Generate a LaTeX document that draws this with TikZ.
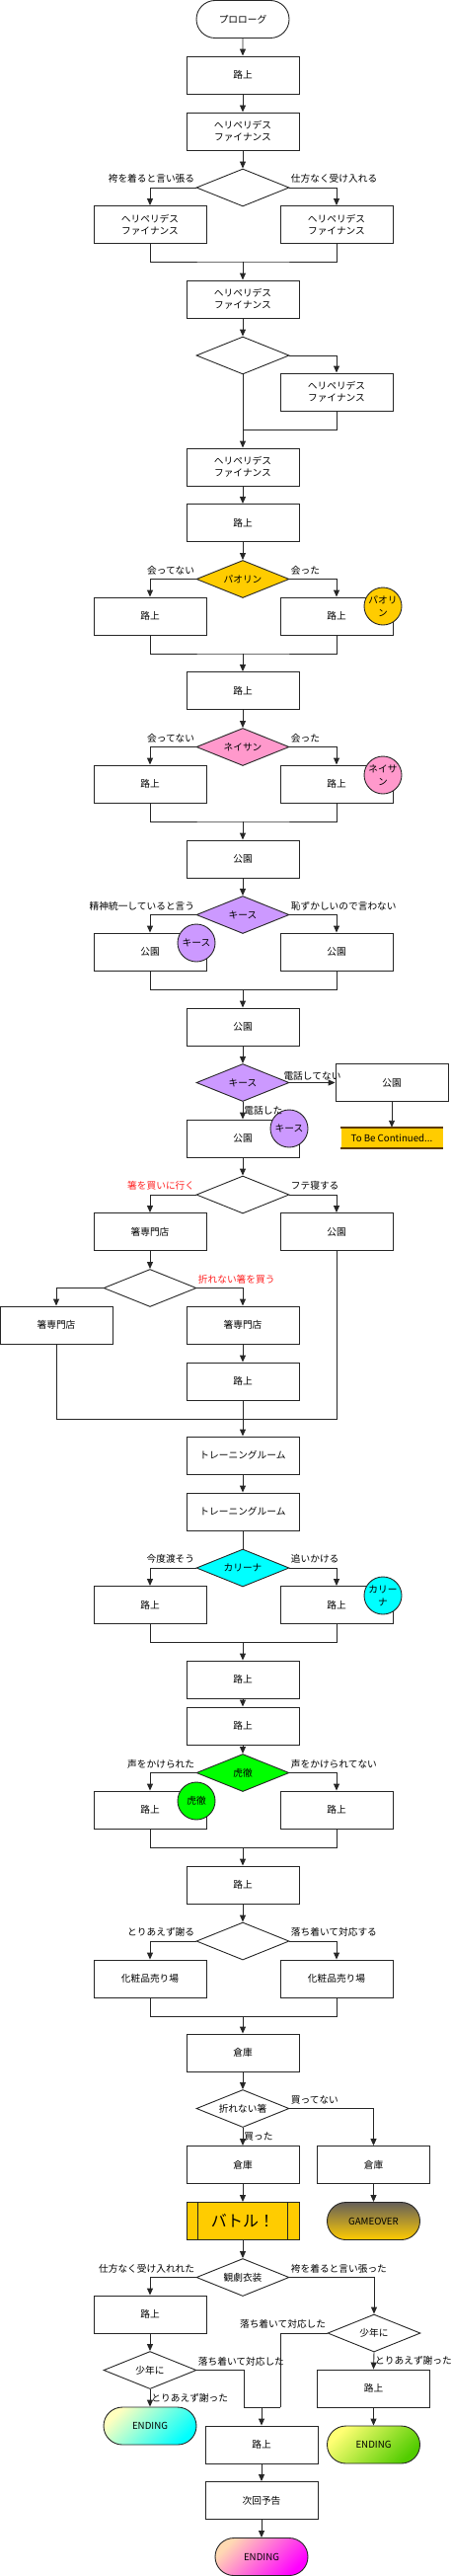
\documentclass[tikz,border=0pt]{standalone}
\usepackage{fontspec}
\setmainfont{Noto Sans CJK JP}
\usetikzlibrary{shapes.geometric, shapes.misc, arrows.meta}

\definecolor{golden}{HTML}{FFCC00}
\definecolor{nspink}{HTML}{FF99CC}
\definecolor{kslila}{HTML}{CC99FF}
\definecolor{krcyan}{HTML}{00FFFF}
\definecolor{ktgreen}{HTML}{00FF00}
\definecolor{govertop}{HTML}{66605A}
\definecolor{tbcrand}{HTML}{5C3A00}
\definecolor{choicered}{HTML}{FF2020}

\tikzset{
  scene/.style={rectangle, draw=black!85, line width=0.9pt, fill=white, minimum width=114pt,
    minimum height=38pt, inner sep=0pt, align=center, font=\fontsize{9.7}{12}\selectfont},
  choice/.style={diamond, draw=black!85, line width=0.9pt, fill=white, aspect=2.47, minimum width=94pt,
    minimum height=38pt, inner sep=0pt, font=\fontsize{9.7}{12}\selectfont},
  terminal/.style={rounded rectangle, draw=black!85, line width=0.9pt, minimum width=94pt,
    minimum height=38pt, inner sep=0pt, font=\fontsize{9.7}{12}\selectfont},
  chara/.style={circle, draw=black!85, line width=0.9pt, minimum size=38pt, inner sep=0pt,
    align=center, font=\fontsize{9.7}{13}\selectfont},
  lbl/.style={inner sep=1pt, font=\fontsize{9.7}{12}\selectfont},
  arrow/.style={-{Triangle[width=6pt,length=7pt]}, line width=0.9pt, draw=black!85},
  link/.style={line width=0.9pt, draw=black!85},
}

\begin{document}
\begin{tikzpicture}[x=1pt, y=-1pt]
  \tikzset{
    battle/.style={rectangle, draw=black!85, line width=0.9pt, fill=golden, minimum width=114pt,
      minimum height=38pt, inner sep=0pt, font=\fontsize{16}{18}\selectfont},
    tbc/.style={rectangle, fill=golden, minimum width=103pt, minimum height=21pt,
      inner sep=0pt, font=\fontsize{9.7}{12}\selectfont},
  }
  \useasboundingbox (0,0) rectangle (457,2609);

  % Anfang: Heliperides Finance
  \node[terminal, fill=white] (prolog) at (246,19.5) {プロローグ};
  \node[scene] (r1)  at (246,76)    {路上};
  \node[scene] (hf1) at (246,133)   {ヘリペリデス\\ファイナンス};
  \node[choice] (c1) at (246,190)   {};
  \node[scene] (hf2) at (152,227.5) {ヘリペリデス\\ファイナンス};
  \node[scene] (hf3) at (341,227.5) {ヘリペリデス\\ファイナンス};
  \coordinate (j1) at (246,265);
  \node[scene] (hf4) at (246,303)   {ヘリペリデス\\ファイナンス};
  \node[choice] (c2) at (246,360)   {};
  \node[scene] (hf5) at (341,397)   {ヘリペリデス\\ファイナンス};
  \coordinate (j2) at (246,435);
  \node[scene] (hf6) at (246,473)   {ヘリペリデス\\ファイナンス};

  % Paolin
  \node[scene] (r2) at (246,529.5) {路上};
  \node[choice, fill=golden] (c3) at (246,586.5) {パオリン};
  \node[scene] (r3) at (152,624) {路上};
  \node[scene] (r4) at (341,624) {路上};
  \node[chara, fill=golden] (ch1) at (388,614) {パオリ\\ン};
  \coordinate (j3) at (246,662);

  % Nathan
  \node[scene] (r5) at (246,699.5) {路上};
  \node[choice, fill=nspink] (c4) at (246,756.5) {ネイサン};
  \node[scene] (r6) at (152,794) {路上};
  \node[scene] (r7) at (341,794) {路上};
  \node[chara, fill=nspink] (ch2) at (388,785) {ネイサ\\ン};
  \coordinate (j4) at (246,832);

  % Kiss
  \node[scene] (p1) at (246,870) {公園};
  \node[choice, fill=kslila] (c5) at (246,926.5) {キース};
  \node[scene] (p2) at (152,964) {公園};
  \node[scene] (p3) at (341,964) {公園};
  \node[chara, fill=kslila] (ch3) at (199,955) {キース};
  \coordinate (j5) at (246,1002);
  \node[scene] (p4) at (246,1040) {公園};
  \node[choice, fill=kslila] (c6) at (246,1096.5) {キース};
  \node[scene] (p5) at (397,1096.5) {公園};
  \node[tbc] (tbc) at (397,1152.5) {To Be Continued...};
  \node[scene] (p6) at (246,1153) {公園};
  \node[chara, fill=kslila] (ch4) at (293,1143) {キース};

  % Essstaebchen
  \node[choice] (c7) at (246,1210) {};
  \node[scene] (s1) at (152,1247.5) {箸専門店};
  \node[scene] (p7) at (341,1247.5) {公園};
  \node[choice] (c8) at (152,1304.5) {};
  \node[scene] (s2) at (57,1342)  {箸専門店};
  \node[scene] (s3) at (246,1342) {箸専門店};
  \node[scene] (r8) at (246,1399) {路上};
  \coordinate (j6) at (246,1437);
  \node[scene] (t1) at (246,1474) {トレーニングルーム};
  \node[scene] (t2) at (246,1531) {トレーニングルーム};

  % Karina
  \node[choice, fill=krcyan] (c9) at (246,1588) {カリーナ};
  \node[scene] (r9)  at (152,1625.5) {路上};
  \node[scene] (r10) at (341,1625.5) {路上};
  \node[chara, fill=krcyan] (ch5) at (388,1616) {カリー\\ナ};
  \coordinate (j7) at (246,1663);
  \node[scene] (r11) at (246,1701) {路上};
  \node[scene] (r12) at (246,1748) {路上};

  % Kotetsu
  \node[choice, fill=ktgreen] (c10) at (246,1795.5) {虎徹};
  \node[scene] (r13) at (152,1833) {路上};
  \node[scene] (r14) at (341,1833) {路上};
  \node[chara, fill=ktgreen] (ch6) at (199,1824) {虎徹};
  \coordinate (j8) at (246,1871);
  \node[scene] (r15) at (246,1909) {路上};
  \node[choice] (c11) at (246,1966) {};
  \node[scene] (k1) at (152,2004) {化粧品売り場};
  \node[scene] (k2) at (341,2004) {化粧品売り場};
  \coordinate (j9) at (246,2042);

  % Lager und Kampf
  \node[scene] (w1) at (246,2079) {倉庫};
  \node[choice] (c12) at (246,2135.5) {折れない箸};
  \node[scene] (w2) at (246,2192.5) {倉庫};
  \node[scene] (w3) at (378.5,2192.5) {倉庫};
  \node[battle] (bt) at (246,2249.5) {バトル！};
  \node[terminal, top color=govertop, bottom color=golden] (go) at (378.5,2249.5) {GAMEOVER};

  % Enden
  \node[choice] (c13) at (246,2306.5) {観劇衣装};
  \node[scene] (r16) at (152,2344) {路上};
  \node[choice] (c14) at (152,2400.5) {少年に};
  \node[terminal, top color=yellow!25!white, bottom color=krcyan, shading angle=45] (e1) at (152,2457) {ENDING};
  \node[choice] (c15) at (379,2363) {少年に};
  \node[scene] (r17) at (378.5,2419) {路上};
  \node[terminal, top color=yellow!55!white, bottom color=green!60!yellow!80!black, shading angle=45] (e2) at (378.5,2476) {ENDING};
  \coordinate (j10l) at (247,2438);
  \coordinate (j10) at (265,2438);
  \coordinate (j10r) at (284,2438);
  \node[scene] (r18) at (265,2476) {路上};
  \node[scene] (nx) at (265,2532.5) {次回予告};
  \node[terminal, top color=orange!30!white, bottom color=magenta, shading angle=45] (e3) at (265,2589.5) {ENDING};

  % Verbindungen oben
  \draw[arrow] (prolog) -- (r1);
  \draw[arrow] (r1) -- (hf1);
  \draw[arrow] (hf1) -- (c1);
  \draw[arrow] (c1.west) -| node[lbl, pos=0, anchor=south east, yshift=3pt] {袴を着ると言い張る} (hf2.north);
  \draw[arrow] (c1.east) -| node[lbl, pos=0, anchor=south west, yshift=3pt] {仕方なく受け入れる} (hf3.north);
  \draw[link] (hf2.south) |- (j1) -| (hf3.south);
  \draw[arrow] (j1) -- (hf4);
  \draw[arrow] (hf4) -- (c2);
  \draw[arrow] (c2.east) -| (hf5.north);
  \draw[link] (hf5.south) |- (j2);
  \draw[arrow] (c2.south) -- (hf6.north);

  % Paolin
  \draw[arrow] (hf6) -- (r2);
  \draw[arrow] (r2) -- (c3);
  \draw[arrow] (c3.west) -| node[lbl, pos=0, anchor=south east, yshift=3pt] {会ってない} (r3.north);
  \draw[arrow] (c3.east) -| node[lbl, pos=0, anchor=south west, yshift=3pt] {会った} (r4.north);
  \draw[link] (r3.south) |- (j3) -| (r4.south);
  \draw[arrow] (j3) -- (r5);

  % Nathan
  \draw[arrow] (r5) -- (c4);
  \draw[arrow] (c4.west) -| node[lbl, pos=0, anchor=south east, yshift=3pt] {会ってない} (r6.north);
  \draw[arrow] (c4.east) -| node[lbl, pos=0, anchor=south west, yshift=3pt] {会った} (r7.north);
  \draw[link] (r6.south) |- (j4) -| (r7.south);
  \draw[arrow] (j4) -- (p1);

  % Kiss
  \draw[arrow] (p1) -- (c5);
  \draw[arrow] (c5.west) -| node[lbl, pos=0, anchor=south east, yshift=3pt] {精神統一していると言う} (p2.north);
  \draw[arrow] (c5.east) -| node[lbl, pos=0, anchor=south west, yshift=3pt] {恥ずかしいので言わない} (p3.north);
  \draw[link] (p2.south) |- (j5) -| (p3.south);
  \draw[arrow] (j5) -- (p4);
  \draw[arrow] (p4) -- (c6);
  \draw[arrow] (c6.east) -- node[lbl, above, yshift=1pt] {電話してない} (p5.west);
  \draw[arrow] (p5) -- (tbc);
  \draw[arrow] (c6.south) -- node[lbl, right] {電話した} (p6.north);

  % Essstaebchen
  \draw[arrow] (p6) -- (c7);
  \draw[arrow] (c7.west) -| node[lbl, text=choicered, pos=0, anchor=south east, yshift=3pt] {箸を買いに行く} (s1.north);
  \draw[arrow] (c7.east) -| node[lbl, pos=0, anchor=south west, yshift=3pt] {フテ寝する} (p7.north);
  \draw[arrow] (s1) -- (c8);
  \draw[arrow] (c8.west) -| (s2.north);
  \draw[arrow] (c8.east) -| node[lbl, text=choicered, pos=0, anchor=south west, yshift=3pt] {折れない箸を買う} (s3.north);
  \draw[arrow] (s3) -- (r8);
  \draw[link] (s2.south) |- (j6) -| (p7.south);
  \draw[arrow] (r8) -- (t1);
  \draw[arrow] (t1) -- (t2);

  % Karina
  \draw[link] (t2) -- (c9);
  \draw[arrow] (c9.west) -| node[lbl, pos=0, anchor=south east, yshift=3pt] {今度渡そう} (r9.north);
  \draw[arrow] (c9.east) -| node[lbl, pos=0, anchor=south west, yshift=3pt] {追いかける} (r10.north);
  \draw[link] (r9.south) |- (j7) -| (r10.south);
  \draw[arrow] (j7) -- (r11);
  \draw[arrow] (r11) -- (r12);

  % Kotetsu
  \draw[arrow] (r12) -- (c10);
  \draw[arrow] (c10.west) -| node[lbl, pos=0, anchor=south east, yshift=3pt] {声をかけられた} (r13.north);
  \draw[arrow] (c10.east) -| node[lbl, pos=0, anchor=south west, yshift=3pt] {声をかけられてない} (r14.north);
  \draw[link] (r13.south) |- (j8) -| (r14.south);
  \draw[arrow] (j8) -- (r15);
  \draw[arrow] (r15) -- (c11);
  \draw[arrow] (c11.west) -| node[lbl, pos=0, anchor=south east, yshift=3pt] {とりあえず謝る} (k1.north);
  \draw[arrow] (c11.east) -| node[lbl, pos=0, anchor=south west, yshift=3pt] {落ち着いて対応する} (k2.north);
  \draw[link] (k1.south) |- (j9) -| (k2.south);
  \draw[arrow] (j9) -- (w1);

  % Lager und Kampf
  \draw[arrow] (w1) -- (c12);
  \draw[arrow] (c12.south) -- node[lbl, right] {買った} (w2.north);
  \draw[arrow] (c12.east) -| node[lbl, pos=0, anchor=south west, yshift=3pt] {買ってない} (w3.north);
  \draw[arrow] (w2) -- (bt);
  \draw[arrow] (w3) -- (go);
  \draw[link] ([xshift=12pt]bt.north west) -- ([xshift=12pt]bt.south west);
  \draw[link] ([xshift=-12pt]bt.north east) -- ([xshift=-12pt]bt.south east);
  \draw[tbcrand, line width=2pt] (tbc.north west) -- (tbc.north east);
  \draw[tbcrand, line width=2pt] (tbc.south west) -- (tbc.south east);

  % Enden
  \draw[arrow] (bt) -- (c13);
  \draw[arrow] (c13.west) -| node[lbl, pos=0, anchor=south east, yshift=3pt] {仕方なく受け入れれた} (r16.north);
  \draw[arrow] (c13.east) -| node[lbl, pos=0, anchor=south west, yshift=3pt] {袴を着ると言い張った} (c15.north);
  \draw[arrow] (r16) -- (c14);
  \draw[arrow] (c14.south) -- node[lbl, right] {とりあえず謝った} (e1.north);
  \draw[link] (c14.east) -| node[lbl, pos=0, anchor=south west, yshift=3pt] {落ち着いて対応した} (j10l) -- (j10r);
  \draw[link] (c15.west) -| node[lbl, pos=0, anchor=south east, yshift=3pt] {落ち着いて対応した} (j10r);
  \draw[arrow] (c15.south) -- node[lbl, right] {とりあえず謝った} (r17.north);
  \draw[arrow] (r17) -- (e2);
  \draw[arrow] (j10) -- (r18);
  \draw[arrow] (r18) -- (nx);
  \draw[arrow] (nx) -- (e3);

\end{tikzpicture}
\end{document}
